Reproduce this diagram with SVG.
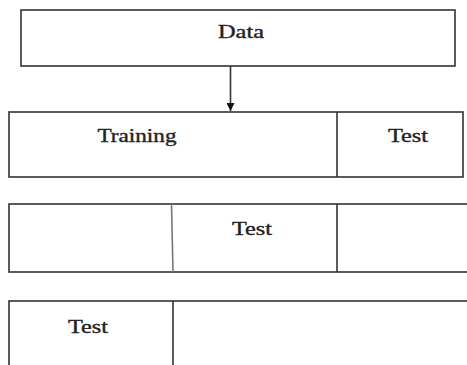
<svg xmlns="http://www.w3.org/2000/svg" width="467" height="365" viewBox="0 0 467 365">
<style>
.box{fill:#fff;stroke:#333;stroke-width:1.6}
.ln{stroke:#333;stroke-width:1.6;fill:none}
.t{font-family:"Liberation Serif","DejaVu Serif",serif;font-size:18px;fill:#222;stroke:#222;stroke-width:0.35;text-anchor:middle}
</style>
<defs>
<marker id="ah" viewBox="0 0 10 10" refX="10" refY="5" markerWidth="11" markerHeight="8" markerUnits="userSpaceOnUse" orient="auto">
<path d="M0,0 L10,5 L0,10 Z" fill="#111"/>
</marker>
</defs>
<rect width="467" height="365" fill="#fff"/>
<g id="data">
<rect class="box" x="21" y="10" width="434" height="56"/>
<text class="t" x="241" y="38" textLength="46" lengthAdjust="spacingAndGlyphs">Data</text>
</g>
<g id="connectors">
<line class="ln" x1="230.5" y1="66" x2="230.5" y2="111" marker-end="url(#ah)"/>
</g>
<g id="split1">
<rect class="box" x="9" y="112" width="454" height="65"/>
<line class="ln" x1="337" y1="112" x2="337" y2="177"/>
<text class="t" x="137" y="142" textLength="79" lengthAdjust="spacingAndGlyphs">Training</text>
<text class="t" x="408" y="142" textLength="40" lengthAdjust="spacingAndGlyphs">Test</text>
</g>
<g id="split2">
<rect class="box" x="9" y="204" width="470" height="68"/>
<line x1="171.5" y1="204" x2="173" y2="272" stroke="#777" stroke-width="1.6"/>
<line class="ln" x1="337" y1="204" x2="337" y2="272"/>
<text class="t" x="252" y="235" textLength="40" lengthAdjust="spacingAndGlyphs">Test</text>
</g>
<g id="split3">
<rect class="box" x="9" y="301" width="470" height="80"/>
<line class="ln" x1="173" y1="301" x2="173" y2="365"/>
<text class="t" x="88" y="333" textLength="40" lengthAdjust="spacingAndGlyphs">Test</text>
</g>
</svg>
